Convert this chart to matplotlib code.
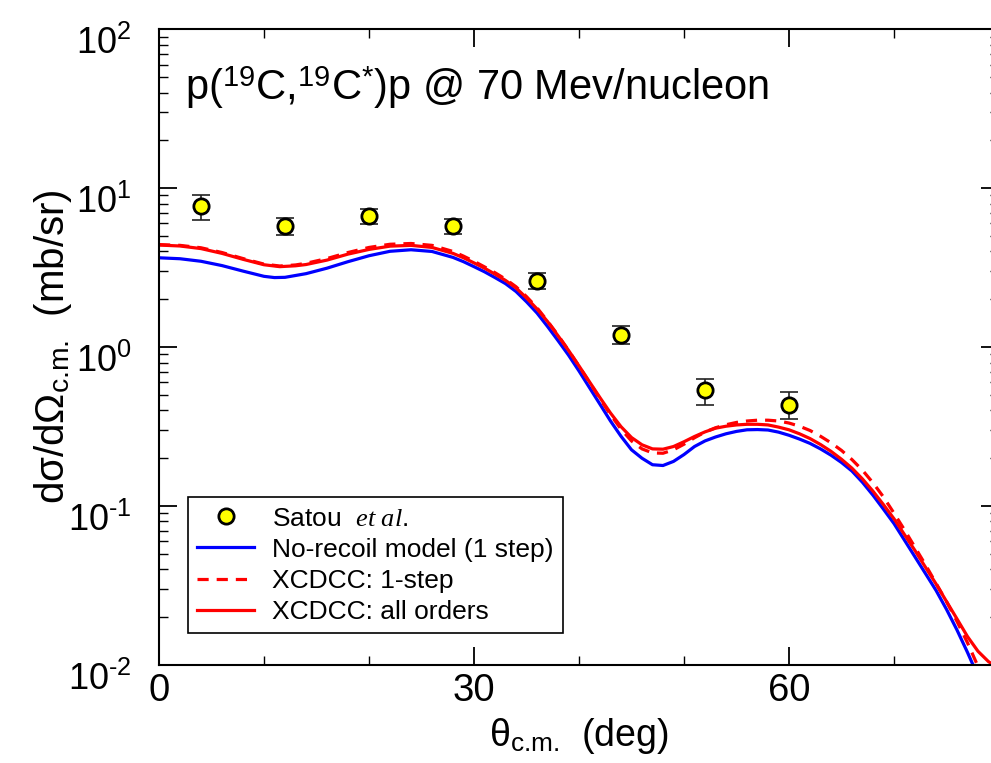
import matplotlib
matplotlib.use("Agg")
import numpy as np
import matplotlib.pyplot as plt
from matplotlib.ticker import MultipleLocator, LogLocator, FuncFormatter
from matplotlib.transforms import ScaledTranslation

plt.rcParams['font.family'] = ['Liberation Sans', 'DejaVu Sans']
plt.rcParams['mathtext.fontset'] = 'custom'
plt.rcParams['mathtext.rm'] = 'Liberation Sans'
plt.rcParams['mathtext.sf'] = 'Liberation Sans'
plt.rcParams['mathtext.it'] = 'Liberation Serif:italic'
plt.rcParams['mathtext.bf'] = 'Liberation Sans:bold'
plt.rcParams['axes.unicode_minus'] = False

# experimental data (Satou et al.)
exp_theta = [4, 12, 20, 28, 36, 44, 52, 60]
exp_xs = [7.7, 5.77, 6.67, 5.77, 2.60, 1.20, 0.534, 0.432]
exp_err_lo = [1.4, 0.71, 0.70, 0.60, 0.29, 0.15, 0.104, 0.081]
exp_err_hi = [1.4, 0.68, 0.75, 0.59, 0.31, 0.155, 0.099, 0.089]

# no-recoil model (1 step)
nr_theta = [0, 2, 4, 6, 8, 10, 11, 12, 14, 16, 18, 20, 22, 24, 26,
            28, 29, 30, 31, 32, 33, 34, 35, 36, 37, 38, 39, 40, 41, 42, 43, 44,
            45, 46, 47, 48, 49, 50, 51, 52, 53, 54, 55, 56, 57, 58, 59, 60, 61,
            62, 63, 64, 65, 66, 67, 68, 69, 70, 71, 72, 73, 74, 75, 76, 77, 78]
nr_xs = [3.65, 3.60, 3.47, 3.26, 3.01, 2.79, 2.74, 2.75, 2.90, 3.14, 3.45, 3.76,
         4.01, 4.10, 4.00,
         3.67, 3.45, 3.21, 2.98, 2.74, 2.51, 2.24, 1.93, 1.64, 1.35, 1.10, 0.891,
         0.708, 0.556, 0.437, 0.343, 0.275, 0.226, 0.200, 0.182, 0.180, 0.191,
         0.211, 0.237, 0.257, 0.272, 0.285, 0.295, 0.302, 0.303, 0.301, 0.292,
         0.279, 0.264, 0.248, 0.229, 0.209, 0.188, 0.166, 0.141, 0.117, 0.0955,
         0.0776, 0.0610, 0.0479, 0.0376, 0.0295, 0.0224, 0.0166, 0.0120, 0.0085]

# XCDCC 1-step
x1_theta = [0, 2, 4, 6, 8, 10, 11.5, 13, 14, 16, 18, 20, 22, 24, 26,
            28, 29, 30, 31, 32, 33, 34, 35, 36, 37, 38, 39, 40, 41, 42, 43, 44,
            45, 46, 47, 48, 49, 50, 51, 52, 53, 54, 55, 56, 57, 58, 59, 60, 61,
            62, 63, 64, 65, 66, 67, 68, 69, 70, 71, 72, 73, 74, 75, 76, 77, 78]
x1_xs = [4.42, 4.37, 4.22, 3.94, 3.61, 3.33, 3.24, 3.29, 3.37, 3.61, 3.94, 4.24,
         4.44, 4.49, 4.37,
         4.00, 3.74, 3.47, 3.20, 2.94, 2.68, 2.40, 2.08, 1.77, 1.46, 1.19, 0.955,
         0.759, 0.600, 0.473, 0.376, 0.305, 0.257, 0.229, 0.216, 0.215, 0.226,
         0.245, 0.269, 0.292, 0.311, 0.325, 0.336, 0.343, 0.347, 0.347, 0.343,
         0.333, 0.318, 0.299, 0.275, 0.250, 0.224, 0.196, 0.168, 0.140, 0.114,
         0.0902, 0.0708, 0.0550, 0.0427, 0.0327, 0.0251, 0.0188, 0.0138, 0.0098]

# XCDCC all orders
xa_theta = [0, 2, 4, 6, 8, 10, 11.5, 13, 14, 16, 18, 20, 22, 24, 26,
            28, 29, 30, 31, 32, 33, 34, 35, 36, 37, 38, 39, 40, 41, 42, 43, 44,
            45, 46, 47, 48, 49, 50, 51, 52, 53, 54, 55, 56, 57, 58, 59, 60, 61,
            62, 63, 64, 65, 66, 67, 68, 69, 70, 71, 72, 73, 74, 75, 76, 77, 78,
            79, 80]
xa_xs = [4.39, 4.33, 4.17, 3.89, 3.57, 3.30, 3.21, 3.25, 3.31, 3.53, 3.85, 4.12,
         4.32, 4.37, 4.24,
         3.89, 3.65, 3.39, 3.14, 2.88, 2.63, 2.36, 2.04, 1.74, 1.45, 1.18, 0.955,
         0.762, 0.605, 0.481, 0.385, 0.316, 0.270, 0.243, 0.229, 0.228, 0.237,
         0.254, 0.274, 0.293, 0.309, 0.318, 0.324, 0.327, 0.327, 0.324, 0.314,
         0.302, 0.285, 0.266, 0.244, 0.221, 0.197, 0.173, 0.148, 0.124, 0.102,
         0.0832, 0.0661, 0.0525, 0.0412, 0.0324, 0.0251, 0.0195, 0.0151, 0.0122,
         0.0105, 0.0095]

W, H = 991, 763
fig = plt.figure(figsize=(W / 100, H / 100), dpi=100)
ax = fig.add_axes([159 / W, 1 - 665 / H, 840 / W, 635.7 / H])

ax.plot(nr_theta, nr_xs, color='#0000ff', lw=2.3, label='No-recoil model (1 step)')
ax.plot(x1_theta, x1_xs, color='#ff0000', lw=2.3, dashes=(3.5, 2.5), label='XCDCC: 1-step')
ax.plot(xa_theta, xa_xs, color='#ff0000', lw=2.3, label='XCDCC: all orders')

ax.errorbar(exp_theta, exp_xs, yerr=[exp_err_lo, exp_err_hi], fmt='none',
            ecolor='#222222', elinewidth=1.2, capsize=6.5, capthick=1.2, zorder=4)
ax.plot(exp_theta, exp_xs, 'o', ms=11, mfc='#ffff00', mec='black', mew=2,
        zorder=5, label=r'Satou  $\mathit{et\ al.}$')

ax.set_yscale('log')
ax.set_xlim(0, 80)
ax.set_ylim(1e-2, 1e2)
ax.xaxis.set_major_locator(MultipleLocator(30))
ax.xaxis.set_minor_locator(MultipleLocator(10))
ax.yaxis.set_major_locator(LogLocator(base=10, numticks=10))
ax.yaxis.set_minor_locator(LogLocator(base=10, subs=range(2, 10), numticks=50))


def pow_fmt(v, pos):
    e = int(round(np.log10(v)))
    return r'$\mathdefault{10^{\text{%d}}}$' % e


ax.yaxis.set_major_formatter(FuncFormatter(pow_fmt))

for s in ax.spines.values():
    s.set_linewidth(1.5)
ax.tick_params(which='both', direction='in', top=True, right=True)
ax.tick_params(which='major', length=13, width=1.3)
ax.tick_params(which='minor', length=6.5, width=1.0)
ax.tick_params(axis='x', which='major', pad=6, labelsize=27.5)
ax.tick_params(axis='y', which='major', pad=20, labelsize=26)

# y tick labels sit a little below their ticks in the original
shift = ScaledTranslation(0, -11 / 100, fig.dpi_scale_trans)
for lab in ax.get_yticklabels():
    lab.set_transform(lab.get_transform() + shift)

ax.set_xlabel(r'θ$_{\text{c.m.}}$  (deg)', fontsize=27, va='top')
ax.xaxis.set_label_coords(0.5, -0.080)
ax.set_ylabel(r'dσ/dΩ$_{\text{c.m.}}$  (mb/sr)', fontsize=29)
ax.yaxis.set_label_coords(-0.101, 0.5)

ax.text(0.031, 0.889, r'p($^{19}$C,$^{19}$C$^{*}$)p @ 70 Mev/nucleon',
        transform=ax.transAxes, fontsize=30, va='baseline', ha='left')

handles, labels = ax.get_legend_handles_labels()
order = [3, 0, 1, 2]
leg = ax.legend([handles[i] for i in order], [labels[i] for i in order],
                loc='lower left', bbox_to_anchor=(0.0345, 0.05), fontsize=19,
                frameon=True, fancybox=False, edgecolor='black', framealpha=1,
                handlelength=2.15, handletextpad=0.7, labelspacing=0.27,
                borderpad=0.35, borderaxespad=0)
leg.get_frame().set_linewidth(1.2)

fig.savefig('out.png', dpi=100)
